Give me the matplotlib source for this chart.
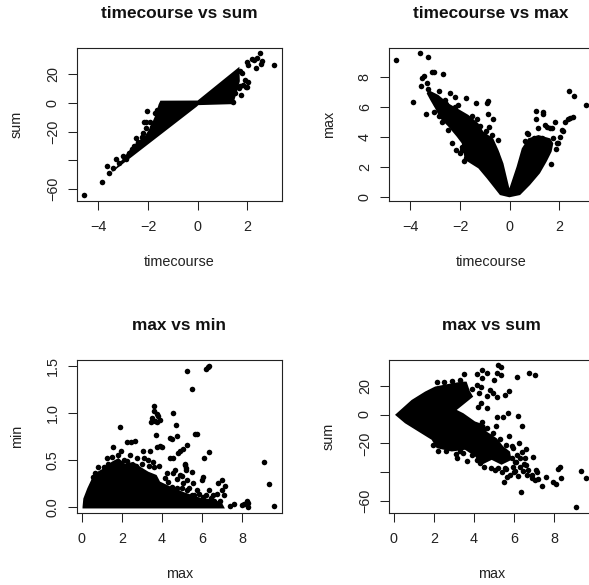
import matplotlib
matplotlib.use('Agg')
import matplotlib.pyplot as plt

plt.rcParams['font.family'] = ['Liberation Sans', 'DejaVu Sans']

W, H = 589, 585

# timecourse vs sum
ts_x = [-4.58, -3.87, -3.63, -3.55, -3.39, -3.3, -3.02, -2.65, -2.48, -2.25, -2.05, -2.18, -2.09, -2.09, -1.72,
        -1.92, -1.85, -2.2, -1.65, -1.6, -2.4, -2.55, -2.75, -2.9, -3.15,
        3.07, 2.5, 2.38, 2.17, 2.28, 2.6, 2.54, 2.36, 1.99, 2.04, 1.77, 2.02, 1.9, 1.84, 1.98, 1.5, 1.75, 1.44,
        1.7, 1.65, 1.72, 1.93]
ts_y = [-64, -54.8, -43.9, -49, -45.5, -39.3, -36.7, -32.3, -24.7, -24, -5.7, -13, -13.5, -17.7, -7.3,
        -13, -16.5, -21, -5, -9, -27, -30, -35, -39, -42,
        26, 34.3, 30.9, 30.2, 29.7, 28.8, 27, 23.9, 28.3, 26.2, 20.4, 14.7, 15.8, 12.3, 11.2, 6.6, 5.4, 0.8,
        11.7, 10, 22, 10.8]
ts_mass_x = [-3.6, -0.04, 0.03, 1.44, 1.5, 1.6, 1.7, 1.68, 0, -1.5, -1.57, -1.7, -1.9, -2.1, -2.5, -2.8, -3.2, -3.55]
ts_mass_y = [-50.2, -2.7, -1.6, -0.9, 3, 8.9, 15, 25, 1.6, 1.5, -1, -8.5, -16.6, -22.4, -28.2, -34, -43, -50]

# timecourse vs max
tm_x = [-4.56, -3.62, -3.3, -3.14, -3.03, -2.7, -3.54, -3.44, -3.32, -3.57, -3.27, -3.88, -3.38, -2.83, -2.4,
        -2.2, -1.77, -1.37, -2.06, -0.92, -0.86, -0.86, -0.68, -1.33, -0.83, -2.31, -2.17, -1.93, -0.45,
        -0.7, -1.5, -2.6, -3.03, -2.74, -2.47, -1.1, -1.9, -2.3, -3.1, -2.95, -2.85, -2.55, -2.2, -1.6, -1.2, -0.95,
        -1.85, -1.55, -1.75, -2.0, -0.55,
        3.07, 2.39, 2.6, 1.05, 1.33, 1.36, 1.05, 1.13, 1.43, 1.49, 0.69, 1.83, 1.69, 2.23, 2.36, 2.56, 2.45,
        2.16, 2.1, 2.03, 1.96, 1.65, 1.85, 1.63, 1.75, 1.9, 0.75, 1.3, 1.0, 0.6, 1.5]
tm_y = [9.11, 9.58, 9.36, 8.33, 8.31, 8.2, 7.96, 8.09, 7.58, 7.4, 7.18, 6.31, 5.51, 7.09, 6.96,
        6.69, 6.58, 6.24, 6.13, 6.24, 6.42, 5.51, 5.18, 5.18, 4.64, 3.62, 3.13, 3.13, 3.8,
        4.1, 5.4, 6.47, 5.69, 5.02, 4.47, 4.1, 3.3, 4.9, 6.6, 6.2, 5.4, 6.2, 6.0, 5.2, 4.7, 4.4,
        2.4, 2.9, 2.6, 2.9, 2.9,
        6.11, 7.04, 6.76, 5.76, 5.69, 5.53, 5.18, 4.62, 4.8, 4.64, 4.29, 5.02, 4.58, 5.02, 5.2, 5.31, 5.25,
        4.4, 4.47, 4.02, 3.58, 2.18, 3.2, 4.58, 3.9, 3.6, 4.2, 3.9, 3.9, 3.7, 3.2]
tm_mass_x = [-0.01, -0.25, -0.45, -0.66, -1.06, -1.26, -1.66, -2.0, -2.47, -2.87, -3.27, -3.34, -3.2, -3.0, -2.8, -2.47,
             -2.13, -1.93, -1.8, -1.26, -0.92, -0.39, -0.01, 0.42, 0.82, 1.22, 1.49, 1.69, 1.76, 1.63, 1.16, 0.75, 0.49, 0.28]
tm_mass_y = [0.58, 2.24, 3.13, 3.9, 4.36, 4.91, 5.47, 5.8, 6.24, 6.8, 7.13, 6.9, 6.47, 5.9, 5.24, 4.69,
             4.02, 3.58, 2.47, 1.91, 1.24, 0.13, -0.02, 0.13, 0.8, 1.58, 2.36, 3.02, 3.58, 3.91, 4.13, 3.91, 3.24, 2.02]

# max vs min
mn_x = [5.26, 5.51, 6.19, 6.34, 6.27, 3.62, 3.6, 3.73, 4.56, 3.78, 3.49, 3.45, 3.65, 3.9, 3.75, 1.91, 4.7, 4.73, 3.7,
        5.64, 5.73, 2.24, 2.46, 2.67, 1.54, 4.4, 4.48, 3.73, 3.9, 3.98, 5.03, 5.23, 4.9, 4.81, 6.34, 6.11, 3.04, 3.4,
        4.4, 4.56, 9.09, 9.34, 9.57, 8.3, 7.38, 7.58, 7.96, 8.21, 8.3, 8.1,
        6.97, 6.8, 7.13, 6.97, 7.08, 6.89, 6.35, 6.06, 5.97, 6.06, 5.56, 5.72, 5.51, 5.18, 5.14, 5.26, 5.06, 4.89, 4.73, 4.64,
        4.23, 5.23, 5.47, 6.45, 6.6, 6.2, 5.0, 5.2, 5.0, 4.55, 5.16, 5.19,
        3.6, 3.3, 3.0, 2.7, 2.4, 2.1, 1.8, 1.5, 1.25, 0.8, 1.95, 2.25, 2.75, 3.1, 3.35, 3.55, 3.85, 0.55, 0.65, 1.1, 1.3,
        4.3, 4.5, 4.75, 5.35, 5.6, 5.85, 6.2, 6.55, 6.75, 4.15]
mn_y = [1.447, 1.252, 1.47, 1.5, 1.485, 1.075, 1.02, 0.99, 1.0, 0.97, 0.94, 0.905, 0.91, 0.92, 0.9, 0.845, 0.87, 0.753, 0.77,
        0.775, 0.78, 0.686, 0.693, 0.7, 0.637, 0.73, 0.725, 0.64, 0.65, 0.64, 0.62, 0.66, 0.6, 0.57, 0.58, 0.52, 0.6, 0.6,
        0.52, 0.52, 0.48, 0.244, 0.01, 0.003, 0.01, 0.03, 0.02, 0.06, 0.04, 0.03,
        0.29, 0.25, 0.22, 0.18, 0.13, 0.06, 0.18, 0.32, 0.29, 0.11, 0.25, 0.18, 0.375, 0.39, 0.46, 0.29, 0.25, 0.34, 0.3, 0.39,
        0.357, 0.18, 0.13, 0.1, 0.06, 0.04, 0.2, 0.08, 0.33, 0.36, 0.45, 0.41,
        0.42, 0.5, 0.46, 0.44, 0.55, 0.5, 0.55, 0.53, 0.52, 0.43, 0.59, 0.49, 0.52, 0.52, 0.44, 0.48, 0.44, 0.32, 0.36, 0.43, 0.46,
        0.27, 0.21, 0.2, 0.2, 0.13, 0.14, 0.13, 0.13, 0.14, 0.31]
mn_mass_x = [0.04, 0.08, 0.28, 0.5, 0.66, 1.08, 1.49, 1.83, 2.16, 2.57, 2.9, 3.32, 3.73, 3.9, 4.4, 5.06, 5.89, 6.5, 6.97, 7.13, 0.04]
mn_mass_y = [0.0, 0.09, 0.2, 0.3, 0.36, 0.41, 0.48, 0.52, 0.46, 0.48, 0.43, 0.375, 0.34, 0.27, 0.22, 0.16, 0.1, 0.08, 0.05, -0.015, -0.015]

# max vs sum
ms_x = [9.1, 6.32, 9.34, 9.58, 8.33, 8.2, 8.28, 7.95, 8.08, 7.58, 7.37, 7.2, 6.87, 7.04, 5.51, 6.95, 7.09, 6.7, 6.57, 6.24,
        5.76, 6.4, 6.2, 5.71, 5.46, 5.16, 4.63, 4.2, 4.35, 4.63, 4.8, 4.96, 5.13, 5.54, 5.74, 4.13, 4.35, 4.25,
        5.21, 5.34, 5.13, 5.34, 5.01, 4.63, 4.38, 4.13, 4.41, 3.5, 6.12, 6.75, 7.03, 2.14,
        6.2, 5.79, 6.45, 6.54, 6.37, 6.12, 5.96, 5.04, 5.21, 3.63, 3.14, 3.1, 3.47, 3.88, 4.3, 4.13,
        6.3, 6.05, 5.6, 6.6, 5.9, 7.15, 6.0, 4.0, 4.4, 4.7, 5.1,
        5.9, 6.1, 6.3, 6.5, 6.65, 6.9, 6.05, 5.55, 5.4, 5.65, 4.5, 4.85, 3.3, 2.6, 2.2, 1.95, 4.3, 4.65, 4.95, 5.3, 5.6, 5.95,
        3.7, 3.3, 2.9, 2.5, 3.9]
ms_y = [-63.8, -54, -39, -43.8, -43.8, -37.6, -36.4, -47, -48, -43.3, -49.3, -44.7, -41.7, -45.2, -47, -29.5, -38.3, -38.3, -24, -19.4,
        -15.2, -7.6, -0.7, 0.9, -1.4, -1.9, 4.4, 5.5, 7.8, 12.9, 17, 14.7, 12.4, 13.6, 16.4, 20.5, 19.4, 14.7,
        34.3, 32.7, 28.6, 27.4, 24, 29, 30.9, 28.1, 25.1, 27.9, 25.8, 29, 27.2, 22.8,
        -42.9, -41.7, -39.4, -30.2, -25.6, -27.9, -36, -38.3, -37.1, -32.5, -30.2, -27.4, -26.7, -27.9, -33.7, -31.4,
        -36, -33, -38, -35, -22, -40, -40, -10, -5.5, -15, -8,
        -30, -33, -30, -34, -42, -44, -39, -37, -40, -43, -36, -37, -25, -25, -25, -21, -8, -9, -13, -17, -21, -23,
        14, 24, 23, 22.5, 18]
ms_mass_x = [0.065, 0.89, 1.56, 2.06, 2.72, 3.38, 3.63, 3.8, 3.96, 3.55, 3.14, 3.47, 4.05, 4.55, 4.63, 5.13, 5.46, 5.79,
             5.87, 5.37, 4.88, 4.38, 4.05, 3.55, 2.89, 2.14, 1.89, 1.23, 0.56]
ms_mass_y = [-0.2, 10.1, 15.9, 19.4, 21.2, 22.8, 22.8, 15.9, 12.4, 7.8, 3.2, 0.9, -4.8, -7.2, -11.8, -16.4, -22.1, -25.6,
             -31.4, -34.8, -31.4, -34.8, -29, -24.4, -25.6, -23.3, -17.5, -11.8, -6]

sum_ticks = [-60, -40, -20, 0, 20]
sum_labels = ['\u221260', '', '\u221220', '0', '20']
tc_ticks = [-4, -2, 0, 2]
tc_labels = ['\u22124', '\u22122', '0', '2']
max_ticks = [0, 2, 4, 6, 8]
min_ticks = [0, 0.5, 1, 1.5]
min_labels = ['0.0', '0.5', '1.0', '1.5']

fig = plt.figure(figsize=(W / 100, H / 100), dpi=100, facecolor='w')


def panel(left, top, px, py, mx, my, title, xlabel, ylabel, xlim, ylim, xt, xl, yt, yl):
    ax = fig.add_axes([left / W, 1 - (top + 153) / H, 205 / W, 153 / H])
    ax.fill(mx, my, color='k', lw=0)
    ax.scatter(px, py, s=16, c='k', linewidths=0)
    ax.set_xlim(xlim)
    ax.set_ylim(ylim)
    ax.set_xticks(xt)
    ax.set_xticklabels(xl)
    ax.set_yticks(yt)
    ax.set_yticklabels(yl, rotation=90, va='center')
    ax.tick_params(length=6.7, width=0.75, labelsize=10.4, color='#222222', labelcolor='#222222')
    ax.tick_params(axis='x', pad=7)
    ax.tick_params(axis='y', pad=5.5)
    for s in ax.spines.values():
        s.set_linewidth(0.8)
        s.set_color('#222222')
    cx = left + 102.5
    fig.text(cx / W, 1 - (top - 34) / H, title, ha='center', va='center', fontsize=12.4, fontweight='bold', color='#111111')
    fig.text(cx / W, 1 - (top + 214.5) / H, xlabel, ha='center', va='center', fontsize=10.4, color='#222222')
    fig.text((left - 60) / W, 1 - (top + 76.5) / H, ylabel, ha='center', va='center', rotation=90, fontsize=10.4, color='#222222')
    return ax


panel(76.7, 47.7, ts_x, ts_y, ts_mass_x, ts_mass_y, 'timecourse vs sum', 'timecourse', 'sum',
      (-4.87, 3.385), (-67.9, 38.25), tc_ticks, tc_labels, sum_ticks, sum_labels)
panel(388.7, 47.7, tm_x, tm_y, tm_mass_x, tm_mass_y, 'timecourse vs max', 'timecourse', 'max',
      (-4.87, 3.385), (-0.247, 9.95), tc_ticks, tc_labels, max_ticks, max_ticks)
panel(76.7, 359.7, mn_x, mn_y, mn_mass_x, mn_mass_y, 'max vs min', 'max', 'min',
      (-0.25, 9.96), (-0.06, 1.564), max_ticks, max_ticks, min_ticks, min_labels)
panel(388.7, 359.7, ms_x, ms_y, ms_mass_x, ms_mass_y, 'max vs sum', 'max', 'sum',
      (-0.25, 9.96), (-68, 38), max_ticks, max_ticks, sum_ticks, sum_labels)

fig.savefig('out.png', dpi=100)
